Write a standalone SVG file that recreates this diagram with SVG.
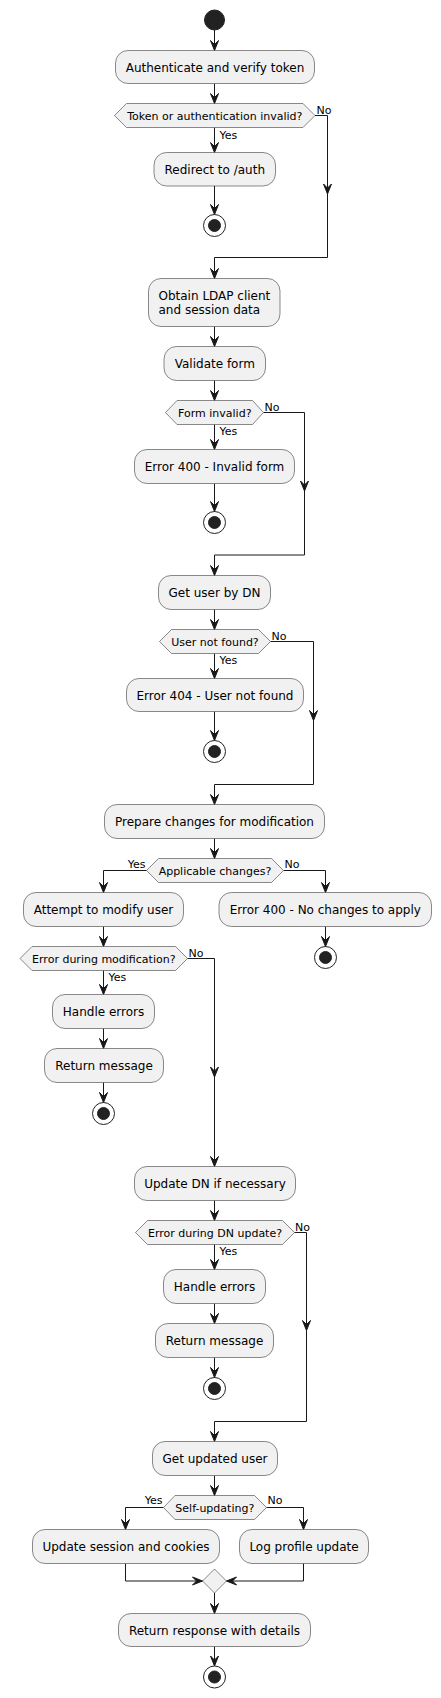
<svg xmlns="http://www.w3.org/2000/svg" xmlns:xlink="http://www.w3.org/1999/xlink" width="441" height="1698" viewBox="0 0 441 1698">
<defs>
<style>
.box{fill:#F1F1F1;stroke:#181818;stroke-width:0.5}
.t{font-family:"DejaVu Sans",sans-serif;font-size:12px;fill:#000}
.tc{text-anchor:middle}
.h{font-family:"DejaVu Sans",sans-serif;font-size:11px;fill:#000;text-anchor:middle}
.l{font-family:"DejaVu Sans",sans-serif;font-size:11px;fill:#000}
.ln{fill:none;stroke:#181818;stroke-width:1}
.ah{fill:#181818;stroke:#181818;stroke-width:1}
.start{fill:#222222;stroke:#222222;stroke-width:1}
.so{fill:none;stroke:#222222;stroke-width:1}
.si{fill:#222222;stroke:#222222;stroke-width:1}
</style>
<path id="ad" class="ah" d="M-4,-10 L0,0 L4,-10 L0,-6 Z"/>
</defs>

<g id="connectors">
<line class="ln" x1="214.5" y1="30" x2="214.5" y2="50.5"/><use href="#ad" transform="translate(214.5,50.5)"/>
<line class="ln" x1="214.5" y1="83.5" x2="214.5" y2="103.5"/><use href="#ad" transform="translate(214.5,103.5)"/>
<line class="ln" x1="214.5" y1="127.5" x2="214.5" y2="152.5"/><use href="#ad" transform="translate(214.5,152.5)"/>
<line class="ln" x1="214.5" y1="186" x2="214.5" y2="214.5"/><use href="#ad" transform="translate(214.5,214.5)"/>
<polyline class="ln" points="315,115.5 327.5,115.5 327.5,257.5 214.5,257.5 214.5,278.5"/>
<use href="#ad" transform="translate(327.5,194)"/><use href="#ad" transform="translate(214.5,278.5)"/>

<line class="ln" x1="214.5" y1="326.5" x2="214.5" y2="346.5"/><use href="#ad" transform="translate(214.5,346.5)"/>
<line class="ln" x1="214.5" y1="380.5" x2="214.5" y2="400.5"/><use href="#ad" transform="translate(214.5,400.5)"/>
<line class="ln" x1="214.5" y1="424.5" x2="214.5" y2="449.5"/><use href="#ad" transform="translate(214.5,449.5)"/>
<line class="ln" x1="214.5" y1="483.5" x2="214.5" y2="511.5"/><use href="#ad" transform="translate(214.5,511.5)"/>
<polyline class="ln" points="263.5,412.5 304.5,412.5 304.5,555 214.5,555 214.5,575.5"/>
<use href="#ad" transform="translate(304.5,491)"/><use href="#ad" transform="translate(214.5,575.5)"/>

<line class="ln" x1="214.5" y1="609.5" x2="214.5" y2="629.5"/><use href="#ad" transform="translate(214.5,629.5)"/>
<line class="ln" x1="214.5" y1="653.5" x2="214.5" y2="678.5"/><use href="#ad" transform="translate(214.5,678.5)"/>
<line class="ln" x1="214.5" y1="711.5" x2="214.5" y2="740.5"/><use href="#ad" transform="translate(214.5,740.5)"/>
<polyline class="ln" points="270.5,641.5 313.5,641.5 313.5,784.5 214.5,784.5 214.5,804.5"/>
<use href="#ad" transform="translate(313.5,720.5)"/><use href="#ad" transform="translate(214.5,804.5)"/>

<line class="ln" x1="214.5" y1="838.5" x2="214.5" y2="858.5"/><use href="#ad" transform="translate(214.5,858.5)"/>
<polyline class="ln" points="146.5,870.5 103.5,870.5 103.5,892.5"/><use href="#ad" transform="translate(103.5,892.5)"/>
<polyline class="ln" points="283.5,870.5 325.5,870.5 325.5,892.5"/><use href="#ad" transform="translate(325.5,892.5)"/>
<line class="ln" x1="325.5" y1="926.5" x2="325.5" y2="946.5"/><use href="#ad" transform="translate(325.5,946.5)"/>
<line class="ln" x1="103.5" y1="926.5" x2="103.5" y2="946.5"/><use href="#ad" transform="translate(103.5,946.5)"/>
<line class="ln" x1="103.5" y1="970.5" x2="103.5" y2="994.5"/><use href="#ad" transform="translate(103.5,994.5)"/>
<line class="ln" x1="103.5" y1="1028.5" x2="103.5" y2="1048.5"/><use href="#ad" transform="translate(103.5,1048.5)"/>
<line class="ln" x1="103.5" y1="1082.5" x2="103.5" y2="1102.5"/><use href="#ad" transform="translate(103.5,1102.5)"/>
<polyline class="ln" points="187.5,958.5 214.5,958.5 214.5,1166.5"/>
<use href="#ad" transform="translate(214.5,1077)"/><use href="#ad" transform="translate(214.5,1166.5)"/>

<line class="ln" x1="214.5" y1="1200.5" x2="214.5" y2="1220.5"/><use href="#ad" transform="translate(214.5,1220.5)"/>
<line class="ln" x1="214.5" y1="1244.5" x2="214.5" y2="1269.5"/><use href="#ad" transform="translate(214.5,1269.5)"/>
<line class="ln" x1="214.5" y1="1303.5" x2="214.5" y2="1323.5"/><use href="#ad" transform="translate(214.5,1323.5)"/>
<line class="ln" x1="214.5" y1="1357.5" x2="214.5" y2="1377.5"/><use href="#ad" transform="translate(214.5,1377.5)"/>
<polyline class="ln" points="294.5,1232.5 306.5,1232.5 306.5,1421.5 214.5,1421.5 214.5,1441.5"/>
<use href="#ad" transform="translate(306.5,1330.5)"/><use href="#ad" transform="translate(214.5,1441.5)"/>

<line class="ln" x1="214.5" y1="1475.5" x2="214.5" y2="1495.5"/><use href="#ad" transform="translate(214.5,1495.5)"/>
<polyline class="ln" points="163.5,1507.5 125.5,1507.5 125.5,1529.5"/><use href="#ad" transform="translate(125.5,1529.5)"/>
<polyline class="ln" points="266.5,1507.5 303.5,1507.5 303.5,1529.5"/><use href="#ad" transform="translate(303.5,1529.5)"/>
<polyline class="ln" points="125.5,1563.5 125.5,1581 202.5,1581"/><use href="#ad" transform="translate(202.5,1581) rotate(-90)"/>
<polyline class="ln" points="303.5,1563.5 303.5,1581 226.5,1581"/><use href="#ad" transform="translate(226.5,1581) rotate(90)"/>
<line class="ln" x1="214.5" y1="1593" x2="214.5" y2="1613.5"/><use href="#ad" transform="translate(214.5,1613.5)"/>
<line class="ln" x1="214.5" y1="1646.5" x2="214.5" y2="1666"/><use href="#ad" transform="translate(214.5,1666)"/>
</g>

<g id="start"><circle class="start" cx="214.5" cy="20" r="10"/></g>

<g id="n1"><rect class="box" x="115.5" y="50.5" width="199" height="33" rx="12.5"/><text class="t tc" x="215" y="71.5">Authenticate and verify token</text></g>
<g id="d1"><polygon class="box" points="114.5,115.5 126.5,103.5 303,103.5 315,115.5 303,127.5 126.5,127.5"/><text class="h" x="214.8" y="119.6">Token or authentication invalid?</text>
<text class="l" x="219.5" y="138.5">Yes</text><text class="l" x="316.5" y="113.5">No</text></g>
<g id="n2"><rect class="box" x="154" y="152.5" width="121.5" height="33.5" rx="12.5"/><text class="t tc" x="214.8" y="173.8">Redirect to /auth</text></g>
<g id="stop1"><circle class="so" cx="214.5" cy="225.5" r="11"/><circle class="si" cx="214.5" cy="225.5" r="6"/></g>

<g id="n3"><rect class="box" x="148.5" y="278.5" width="131.5" height="48" rx="12.5"/><text class="t" x="158.5" y="299.8">Obtain LDAP client</text><text class="t" x="158.5" y="313.8">and session data</text></g>
<g id="n4"><rect class="box" x="164" y="346.5" width="101.5" height="34" rx="12.5"/><text class="t tc" x="214.8" y="367.8">Validate form</text></g>
<g id="d2"><polygon class="box" points="165.5,412.5 177,400.5 252.5,400.5 263.5,412.5 252.5,424.5 177,424.5"/><text class="h" x="214.8" y="416.6">Form invalid?</text>
<text class="l" x="219.5" y="435.3">Yes</text><text class="l" x="264.5" y="410.5">No</text></g>
<g id="n5"><rect class="box" x="134.5" y="449.5" width="160" height="34" rx="12.5"/><text class="t tc" x="214.5" y="470.8">Error 400 - Invalid form</text></g>
<g id="stop2"><circle class="so" cx="214.5" cy="522.5" r="11"/><circle class="si" cx="214.5" cy="522.5" r="6"/></g>

<g id="n6"><rect class="box" x="158.5" y="575.5" width="112" height="34" rx="12.5"/><text class="t tc" x="214.5" y="596.8">Get user by DN</text></g>
<g id="d3"><polygon class="box" points="159.5,641.5 171.5,629.5 258.5,629.5 270.5,641.5 258.5,653.5 171.5,653.5"/><text class="h" x="215" y="645.6">User not found?</text>
<text class="l" x="219.5" y="664.3">Yes</text><text class="l" x="271.5" y="639.5">No</text></g>
<g id="n7"><rect class="box" x="126.5" y="678.5" width="177" height="33" rx="12.5"/><text class="t tc" x="215" y="699.6">Error 404 - User not found</text></g>
<g id="stop3"><circle class="so" cx="214.5" cy="751.5" r="11"/><circle class="si" cx="214.5" cy="751.5" r="6"/></g>

<g id="n8"><rect class="box" x="104.5" y="804.5" width="220" height="34" rx="12.5"/><text class="t tc" x="214.5" y="825.8">Prepare changes for modification</text></g>
<g id="d4"><polygon class="box" points="146.5,870.5 158.5,858.5 271.5,858.5 283.5,870.5 271.5,882.5 158.5,882.5"/><text class="h" x="215" y="874.6">Applicable changes?</text>
<text class="l" x="145.5" y="868.3" text-anchor="end">Yes</text><text class="l" x="284.5" y="868.3">No</text></g>
<g id="n9"><rect class="box" x="23.5" y="892.5" width="160" height="34" rx="12.5"/><text class="t tc" x="103.5" y="913.8">Attempt to modify user</text></g>
<g id="n10"><rect class="box" x="219" y="892.5" width="212.5" height="34" rx="12.5"/><text class="t tc" x="325.3" y="913.8">Error 400 - No changes to apply</text></g>
<g id="stop4"><circle class="so" cx="325.5" cy="957.5" r="11"/><circle class="si" cx="325.5" cy="957.5" r="6"/></g>
<g id="d5"><polygon class="box" points="20,958.5 32,946.5 175.5,946.5 187.5,958.5 175.5,970.5 32,970.5"/><text class="h" x="103.8" y="962.6">Error during modification?</text>
<text class="l" x="108.5" y="981.3">Yes</text><text class="l" x="188.5" y="956.5">No</text></g>
<g id="n11"><rect class="box" x="52.5" y="994.5" width="102" height="34" rx="12.5"/><text class="t tc" x="103.5" y="1015.8">Handle errors</text></g>
<g id="n12"><rect class="box" x="44.5" y="1048.5" width="119" height="34" rx="12.5"/><text class="t tc" x="104" y="1069.8">Return message</text></g>
<g id="stop5"><circle class="so" cx="103.5" cy="1113.5" r="11"/><circle class="si" cx="103.5" cy="1113.5" r="6"/></g>

<g id="n13"><rect class="box" x="134.5" y="1166.5" width="161" height="34" rx="12.5"/><text class="t tc" x="215" y="1187.8">Update DN if necessary</text></g>
<g id="d6"><polygon class="box" points="135.5,1232.5 147.5,1220.5 282.5,1220.5 294.5,1232.5 282.5,1244.5 147.5,1244.5"/><text class="h" x="215" y="1236.6">Error during DN update?</text>
<text class="l" x="219.5" y="1255.3">Yes</text><text class="l" x="295" y="1230.5">No</text></g>
<g id="n14"><rect class="box" x="163.5" y="1269.5" width="102" height="34" rx="12.5"/><text class="t tc" x="214.5" y="1290.8">Handle errors</text></g>
<g id="n15"><rect class="box" x="155.5" y="1323.5" width="118" height="34" rx="12.5"/><text class="t tc" x="214.5" y="1344.8">Return message</text></g>
<g id="stop6"><circle class="so" cx="214.5" cy="1388.5" r="11"/><circle class="si" cx="214.5" cy="1388.5" r="6"/></g>

<g id="n16"><rect class="box" x="152.5" y="1441.5" width="125" height="34" rx="12.5"/><text class="t tc" x="215" y="1462.8">Get updated user</text></g>
<g id="d7"><polygon class="box" points="163.5,1507.5 175,1495.5 254.5,1495.5 266.5,1507.5 254.5,1519.5 175,1519.5"/><text class="h" x="214.8" y="1511.6">Self-updating?</text>
<text class="l" x="162.5" y="1504.3" text-anchor="end">Yes</text><text class="l" x="267.5" y="1504.3">No</text></g>
<g id="n17"><rect class="box" x="32.5" y="1529.5" width="187" height="34" rx="12.5"/><text class="t tc" x="126" y="1550.8">Update session and cookies</text></g>
<g id="n18"><rect class="box" x="239.5" y="1529.5" width="129" height="34" rx="12.5"/><text class="t tc" x="304" y="1550.8">Log profile update</text></g>
<g id="merge"><polygon class="box" points="214.5,1569 226.5,1581 214.5,1593 202.5,1581"/></g>
<g id="n19"><rect class="box" x="118.5" y="1613.5" width="192" height="33" rx="12.5"/><text class="t tc" x="214.5" y="1634.6">Return response with details</text></g>
<g id="stop7"><circle class="so" cx="214.5" cy="1677" r="11"/><circle class="si" cx="214.5" cy="1677" r="6"/></g>
</svg>
